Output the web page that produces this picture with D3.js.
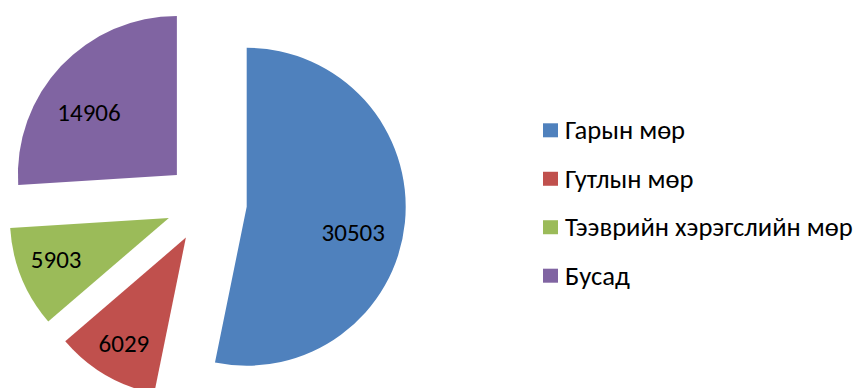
<!DOCTYPE html>
<html>
<head>
<meta charset="utf-8">
<script src="https://cdn.jsdelivr.net/npm/d3@7"></script>
<style>
  html, body { margin: 0; padding: 0; background: #fff; }
  svg { display: block; }
</style>
</head>
<body>
<svg id="chart" width="856" height="388"></svg>
<script>
// Injury location counts
const categories = ["Гарын мөр", "Гутлын мөр", "Тээврийн хэрэгслийн мөр", "Бусад"];
const values = [30503, 6029, 5903, 14906];
const colors = ["#4F81BD", "#C0504D", "#9BBB59", "#8064A2"];

// Label placement tweaks (degrees off the slice bisector, radius as share of pie radius)
const labelNudgeDeg = [8, 0, 2, -7.6];
const labelRadiusShare = [0.69, 0.77, 0.755, 0.68];

const W = 856, H = 388;
const cx = 206.4, cy = 202.7, radius = 159, explode = 40.5;

const svg = d3.select("#chart");
const g = svg.append("g").attr("transform", `translate(${cx},${cy})`);

const data = categories.map((c, i) => ({ name: c, value: values[i], color: colors[i], i }));

const pie = d3.pie().value(d => d.value).sort(null);
const arc = d3.arc().innerRadius(0).outerRadius(radius);

const slices = pie(data);

const sliceG = g.selectAll("g.slice").data(slices).join("g")
  .attr("class", "slice")
  .attr("transform", d => {
    const a = (d.startAngle + d.endAngle) / 2;
    return `translate(${explode * Math.sin(a)},${-explode * Math.cos(a)})`;
  });

sliceG.append("path")
  .attr("d", arc)
  .attr("fill", d => d.data.color);

sliceG.append("text")
  .attr("x", d => {
    const a = (d.startAngle + d.endAngle) / 2 + labelNudgeDeg[d.data.i] * Math.PI / 180;
    return radius * labelRadiusShare[d.data.i] * Math.sin(a);
  })
  .attr("y", d => {
    const a = (d.startAngle + d.endAngle) / 2 + labelNudgeDeg[d.data.i] * Math.PI / 180;
    return -radius * labelRadiusShare[d.data.i] * Math.cos(a);
  })
  .attr("text-anchor", "middle")
  .attr("dominant-baseline", "central")
  .attr("font-family", "Carlito, 'Open Sans', sans-serif")
  .attr("font-size", 25)
  .attr("fill", "#000")
  .text(d => d3.format("d")(d.data.value));

// Legend
const legendY = d3.scalePoint().domain(categories).range([130.3, 275.7]);
const legend = svg.append("g").attr("transform", "translate(543,0)");
const item = legend.selectAll("g.item").data(data).join("g")
  .attr("class", "item")
  .attr("transform", d => `translate(0,${legendY(d.name)})`);
item.append("rect")
  .attr("x", 0).attr("y", -7).attr("width", 15).attr("height", 14)
  .attr("fill", d => d.color);
item.append("text")
  .attr("x", 22).attr("y", 0)
  .attr("dominant-baseline", "central")
  .attr("font-family", "Carlito, 'Open Sans', sans-serif")
  .attr("font-size", 26.6)
  .attr("fill", "#000")
  .text(d => d.name);
</script>
</body>
</html>
